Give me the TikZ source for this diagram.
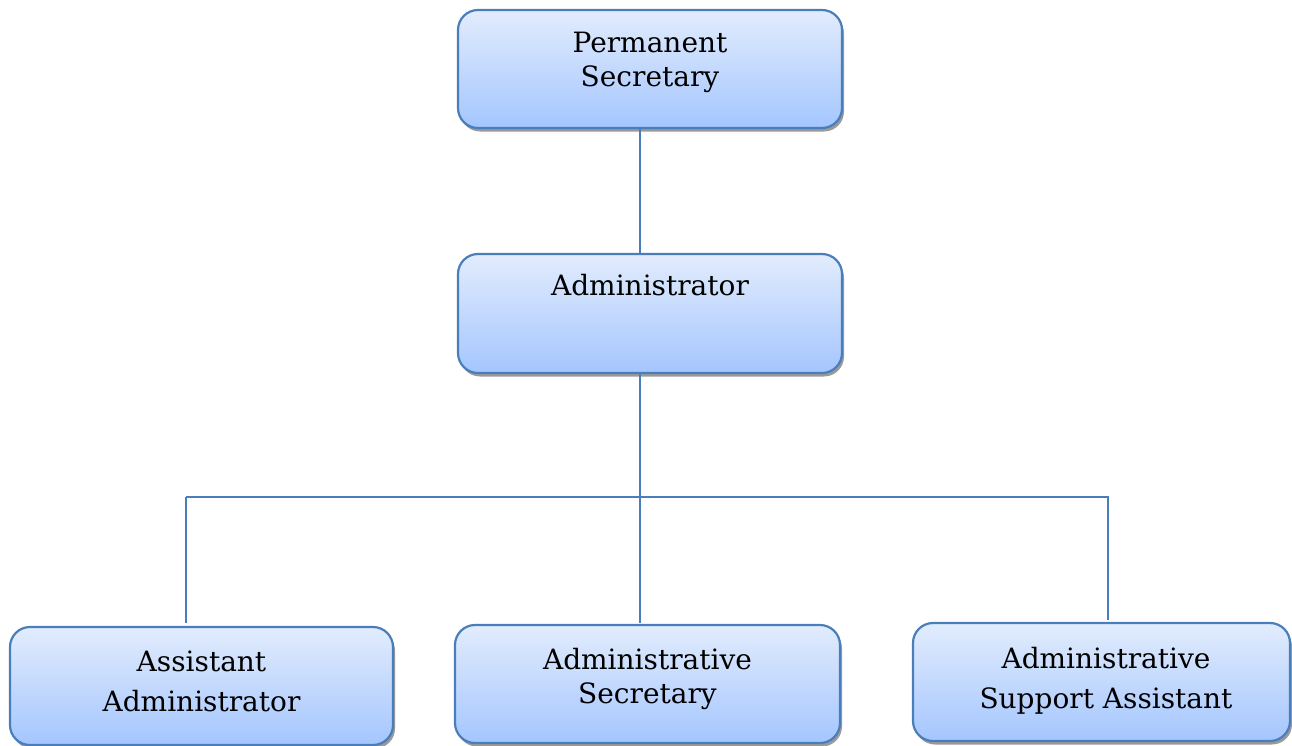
\documentclass[tikz,border=0pt]{standalone}
\usepackage{fontspec}
\setmainfont{DejaVu Serif}
\usetikzlibrary{shadows,calc}
\definecolor{edgeblue}{RGB}{74,126,187}
\definecolor{topfill}{RGB}{226,236,253}
\definecolor{botfill}{RGB}{164,198,254}
\tikzset{
  orgbox/.style={draw=edgeblue, line width=2.2pt, rounded corners=20pt,
    top color=topfill, bottom color=botfill, inner sep=0pt,
    drop shadow={shadow xshift=2pt, shadow yshift=-3.5pt, fill=black, opacity=0.4}},
  lbl/.style={anchor=north, inner sep=0pt, align=center, font=\fontsize{28}{34}\selectfont},
  lblwide/.style={lbl, font=\fontsize{28}{40}\selectfont},
  conn/.style={draw=edgeblue, line width=2.2pt}
}
\begin{document}
\begin{tikzpicture}[x=1pt,y=-1pt]
\useasboundingbox (0,0) rectangle (1292,745);
% boxes
\node[orgbox, minimum width=384pt, minimum height=118pt] (ps) at (650,69) {};
\node[orgbox, minimum width=384pt, minimum height=119pt] (adm) at (650,313.5) {};
\node[orgbox, minimum width=383pt, minimum height=118pt] (aa) at (201.5,686) {};
\node[orgbox, minimum width=385pt, minimum height=118pt] (as) at (647.5,684) {};
\node[orgbox, minimum width=377pt, minimum height=118pt] (asa) at (1101.5,682) {};
% labels
\node[lbl] (psT) at (650,32) {Permanent\\Secretary};
\node[lbl] (admT) at (650,274) {Administrator};
\node[lblwide] (aaT) at (201.5,651) {Assistant\\Administrator};
\node[lbl] (asT) at (647.5,648) {Administrative\\Secretary};
\node[lblwide] (asaT) at (1106,647) {Administrative\\Support Assistant};
% connector coordinates
\coordinate (trunk) at (640,0);
\coordinate (bus) at (640,497);
\coordinate (busL) at (186,497);
\coordinate (busR) at (1109,497);
% connectors
\draw[conn] (ps.south -| trunk) -- (adm.north -| trunk);
\draw[conn] (adm.south -| trunk) -- (bus);
\draw[conn] (busL) -- (busR);
\draw[conn] (busL) -- ($(aa.north -| busL)+(0,-3)$);
\draw[conn] (bus) -- ($(as.north -| bus)+(0,-1)$);
\draw[conn] ($(busR)+(-1,0)$) -- ($(asa.north -| busR)+(-1,-2)$);
\end{tikzpicture}
\end{document}
